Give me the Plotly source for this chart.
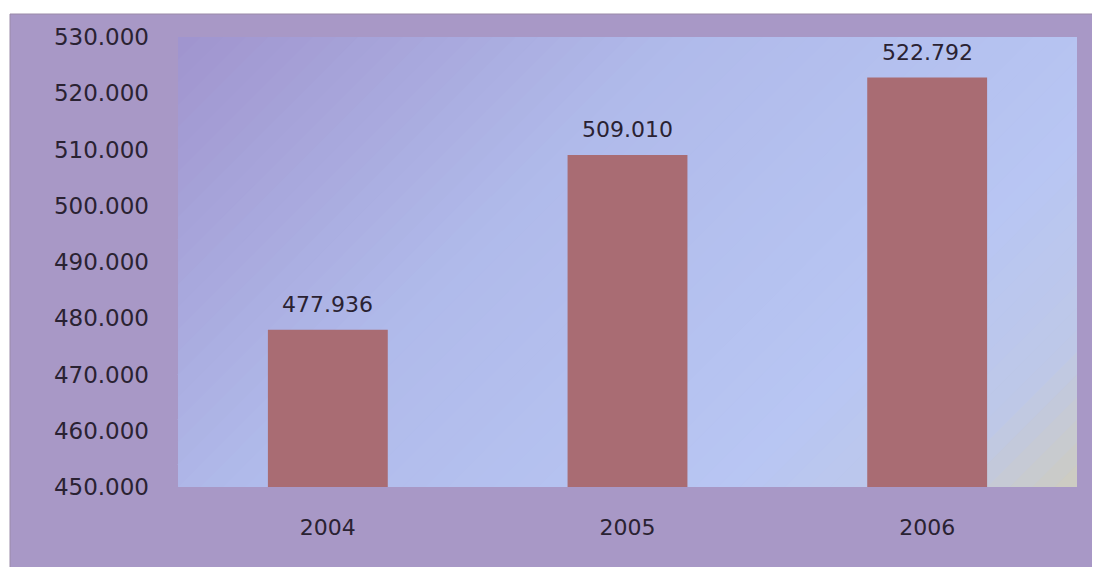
import plotly.graph_objects as go

# data
years = ["2004", "2005", "2006"]
values = [477936, 509010, 522792]
y_ticks = [450000, 460000, 470000, 480000, 490000, 500000, 510000, 520000, 530000]

# the page puts the figure 8px in from the top-left corner, so size it to fit
W, H = 1092, 559
L, R, T, B = 170, 23, 29, 80
PW, PH = W - L - R, H - T - B

BAR = "#a96c73"
TXT = "#2a2232"


def clip(poly, a, b, c):
    # keep the part of the polygon where a*x + b*y <= c
    out = []
    n = len(poly)
    for i in range(n):
        p, q = poly[i], poly[(i + 1) % n]
        fp = a * p[0] + b * p[1] - c
        fq = a * q[0] + b * q[1] - c
        if fp <= 0:
            out.append(p)
        if (fp < 0 < fq) or (fq < 0 < fp):
            t = fp / (fp - fq)
            out.append((p[0] + t * (q[0] - p[0]), p[1] + t * (q[1] - p[1])))
    return out


def lerp_color(d):
    stops = [(0, (160, 148, 206)), (500, (176, 186, 234)),
             (1000, (184, 198, 243)), (1200, (190, 200, 232)), (1349, (206, 204, 192))]
    for (d0, c0), (d1, c1) in zip(stops, stops[1:]):
        if d <= d1:
            t = (d - d0) / (d1 - d0)
            return "rgb(%d,%d,%d)" % tuple(round(c0[k] + t * (c1[k] - c0[k])) for k in range(3))
    return "rgb(%d,%d,%d)" % stops[-1][1]


shapes = [
    # outer purple panel
    dict(type="rect", xref="paper", yref="paper", layer="below",
         x0=(2 - L) / PW, x1=(W + 5 - L) / PW, y0=-(B + 5) / PH, y1=(PH + T - 6) / PH,
         fillcolor="#a898c6", line=dict(color="#9a8aa8", width=1)),
]

# diagonal gradient inside the plot area (distance from top-left corner in px)
N = 60
dmax = PW + PH
rect = [(0, 0), (PW, 0), (PW, PH), (0, PH)]
for i in range(N):
    d0, d1 = dmax * i / N, dmax * (i + 1) / N + 1
    poly = clip(rect, 1, 1, d1)
    poly = clip(poly, -1, -1, -d0)
    if len(poly) < 3:
        continue
    path = "M " + " L ".join("%.4f,%.4f" % (x / PW, 1 - y / PH) for x, y in poly) + " Z"
    shapes.append(dict(type="path", xref="paper", yref="paper", layer="below",
                       path=path, fillcolor=lerp_color((d0 + d1) / 2), line=dict(width=0)))

fig = go.Figure()
fig.add_trace(go.Bar(x=years, y=values, marker=dict(color=BAR, line=dict(width=0)),
                     hoverinfo="x+y"))

# value labels above the bars (category index, since "2004" would be read as a number)
for i, v in enumerate(values):
    fig.add_annotation(x=i, y=v, text=f"{v:,}".replace(",", "."), showarrow=False,
                       yanchor="bottom", yshift=11, font=dict(size=22, color=TXT))

fig.update_layout(
    width=W, height=H,
    margin=dict(l=L, r=R, t=T, b=B),
    paper_bgcolor="white",
    plot_bgcolor="rgba(0,0,0,0)",
    separators=",.",
    font=dict(family="DejaVu Sans", size=23, color=TXT),
    bargap=0.6,
    showlegend=False,
    shapes=shapes,
    xaxis=dict(type="category", range=[-0.5, len(years) - 0.5], showgrid=False,
               zeroline=False, showline=False, ticks="", ticklabelstandoff=25,
               tickfont=dict(size=22)),
    yaxis=dict(range=[450000, 530000], tickvals=y_ticks, tickformat=",d",
               showgrid=False, zeroline=False, showline=False, ticks="",
               ticklabelstandoff=28),
)

fig.write_html("out.html")
